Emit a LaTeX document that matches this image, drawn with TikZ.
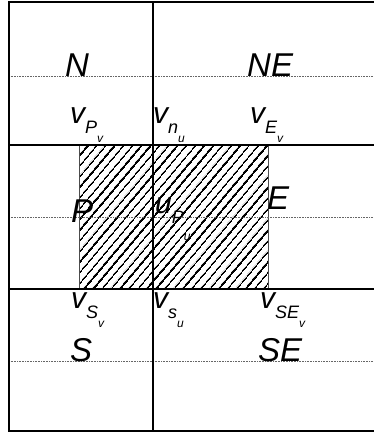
\documentclass[tikz,border=0pt]{standalone}
\usepackage{fontspec}
\setmainfont{Liberation Sans}
\usetikzlibrary{patterns.meta}
\newcommand{\cellvar}[4][9pt]{#2\raisebox{-10pt}{\fontsize{18}{18}\selectfont #3\raisebox{-#1}{\fontsize{12}{12}\selectfont #4}}}

\begin{document}
\begin{tikzpicture}[x=1pt,y=-1pt,
  cell/.style={font=\fontsize{33}{33}\selectfont\itshape,inner sep=0pt,anchor=base west},
  vel/.style={font=\fontsize{30}{30}\selectfont\itshape,inner sep=0pt,anchor=base west},
  thickline/.style={line width=2.5pt,black},
  gridline/.style={line width=0.7pt,black!60,dash pattern=on 0.8pt off 0.8pt},
  hatch/.style={draw=black!70,line width=0.6pt,pattern={Lines[angle=50,distance=6.4pt,line width=1.5pt]}}
]
\useasboundingbox (0,0) rectangle (374,434);
% control volume for u
\path[hatch] (79,145) rectangle (268,289);
\foreach \y in {76,217,361} \draw[gridline] (9,\y) -- (374,\y);
\draw[thickline] (374,2) -- (9,2) -- (9,431) -- (374,431);
\draw[thickline] (153,2) -- (153,431);
\draw[thickline] (9,145) -- (374,145);
\draw[thickline] (9,289) -- (374,289);

% cell names
\node[cell] (north) at (65,76) {N};
\node[cell] (northeast) at (247,76) {NE};
\node[cell] (centre) at (71,222) {P};
\node[cell] (east) at (267,209) {E};
\node[cell] (south) at (70,361) {S};
\node[cell] (southeast) at (258,361) {SE};

% velocity labels
\node[vel] (vP) at (70,123) {\cellvar{v}{P}{v}};
\node[vel] (vn) at (153,123) {\cellvar{v}{n}{u}};
\node[vel] (vE) at (250,123) {\cellvar{v}{E}{v}};
\node[vel] (uP) at (155,213) {\cellvar[17pt]{u}{P}{u}};
\node[vel] (vS) at (71,308) {\cellvar{v}{S}{v}};
\node[vel] (vs) at (153,308) {\cellvar{v}{s}{u}};
\node[vel] (vSE) at (260,308) {\cellvar{v}{SE}{v}};
\end{tikzpicture}
\end{document}
